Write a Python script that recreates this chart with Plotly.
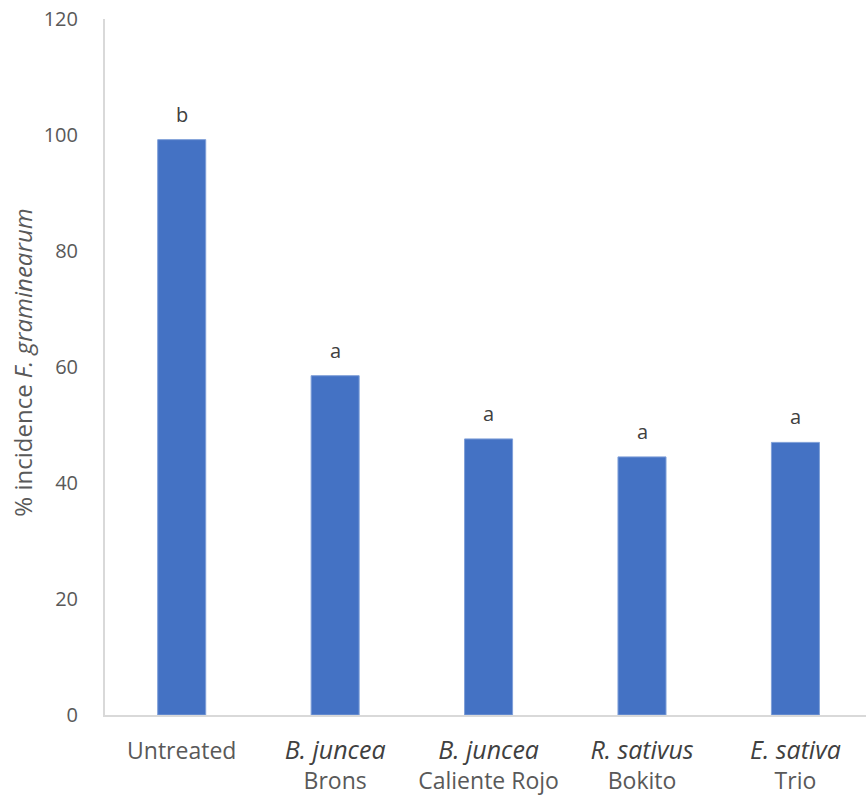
import plotly.graph_objects as go

# Treatments: species (italic) and cultivar
species = ["", "B. juncea", "B. juncea", "R. sativus", "E. sativa"]
cultivars = ["Untreated", "Brons", "Caliente Rojo", "Bokito", "Trio"]
incidence = [99.2, 58.5, 47.6, 44.5, 47.0]
letters = ["b", "a", "a", "a", "a"]
y_ticks = [0, 20, 40, 60, 80, 100, 120]

tick_text = []
for sp, cv in zip(species, cultivars):
    if sp:
        tick_text.append(
            f"<span style='font-size:25px;color:#404040'><i>{sp}</i></span><br>{cv}"
        )
    else:
        tick_text.append(cv)

positions = list(range(len(cultivars)))

fig = go.Figure()
fig.add_trace(go.Bar(
    x=positions,
    y=incidence,
    marker=dict(color="#4472C4", line=dict(color="#7f9fd8", width=1)),
    width=0.313,
    hoverinfo="skip",
))

for xi, val, lt in zip(positions, incidence, letters):
    fig.add_annotation(
        x=xi, y=val, text=lt, showarrow=False,
        yanchor="bottom", yshift=10,
        font=dict(size=20, color="#404040"),
    )

# y-axis title placed as a rotated annotation
fig.add_annotation(
    xref="paper", yref="paper", x=-0.108, y=0.506,
    xanchor="center", yanchor="middle", textangle=-90,
    text="% incidence <i>F. graminearum</i>", showarrow=False,
    font=dict(size=24, color="#595959"),
)

fig.update_layout(
    width=866, height=798,
    margin=dict(l=105, r=0, t=19, b=83),
    plot_bgcolor="white", paper_bgcolor="white",
    font=dict(family="Open Sans", size=20, color="#595959"),
    showlegend=False,
)

fig.update_xaxes(
    tickmode="array", tickvals=positions, ticktext=tick_text,
    range=[-0.5, 4.46],
    showline=True, linecolor="#d9d9d9", linewidth=2,
    showgrid=False, zeroline=False, ticks="",
    ticklabelstandoff=14,
    tickfont=dict(size=23, color="#595959"),
)

fig.update_yaxes(
    range=[0, 120], tickvals=y_ticks,
    showline=True, linecolor="#d9d9d9", linewidth=2,
    showgrid=False, zeroline=False, ticks="",
    ticklabelstandoff=21,
    tickfont=dict(size=20, color="#595959"),
)

fig.write_html("out.html")
